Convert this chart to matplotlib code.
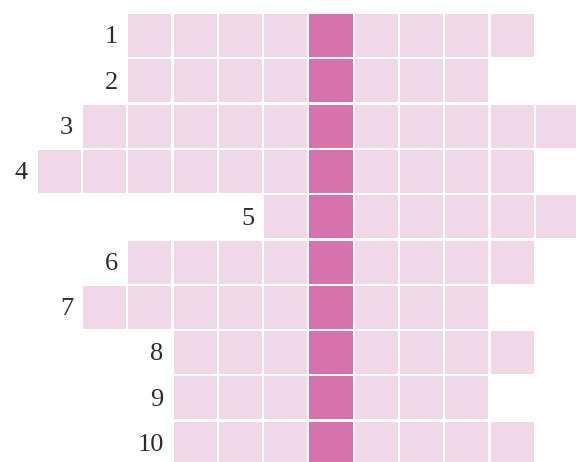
import matplotlib
matplotlib.use("Agg")
import matplotlib.pyplot as plt
from matplotlib.patches import Rectangle

# Data
row_labels = ["1", "2", "3", "4", "5", "6", "7", "8", "9", "10"]
start_cols = [2, 2, 1, 0, 5, 2, 1, 3, 3, 3]
end_cols = [10, 9, 11, 10, 11, 10, 9, 10, 9, 10]
highlight_col = 6

light = "#f0d8e6"
dark = "#d672ad"
text_color = "#2b2b2b"

fig = plt.figure(figsize=(5.76, 4.62), dpi=100)
ax = fig.add_axes([0, 0, 1, 1])
pitch = 45.3
x0, y0 = 37.7, 14.0
ax.set_xlim(-x0 / pitch, (576 - x0) / pitch)
ax.set_ylim((462 - y0) / pitch, -y0 / pitch)
ax.axis("off")

size = 0.95
for r, (lab, s, e) in enumerate(zip(row_labels, start_cols, end_cols)):
    for c in range(s, e + 1):
        col = dark if c == highlight_col else light
        ax.add_patch(Rectangle((c, r), size, size, facecolor=col, edgecolor="none"))
    ax.text(s - 0.22, r + size / 2 + 0.04, lab, ha="right", va="center",
            fontsize=19, color=text_color, family=["Liberation Serif", "DejaVu Serif"])

fig.savefig("out.png", dpi=100)
